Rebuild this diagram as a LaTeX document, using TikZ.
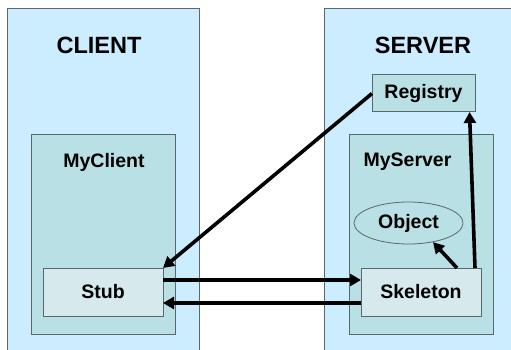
\documentclass[tikz,border=0pt]{standalone}
\usepackage{fontspec}
\setmainfont{Liberation Sans}
\usetikzlibrary{arrows.meta,shapes.geometric,calc}
\definecolor{hostblue}{RGB}{204,236,255}
\definecolor{procteal}{RGB}{185,224,228}
\definecolor{proxyfill}{RGB}{214,234,237}
\definecolor{edgegray}{RGB}{88,104,108}
\tikzset{
  host/.style={draw=edgegray, line width=1pt, fill=hostblue, inner sep=0pt, outer sep=0pt, anchor=north west},
  proc/.style={draw=edgegray, line width=1pt, fill=procteal, inner sep=0pt, outer sep=0pt},
  proxy/.style={draw=edgegray, line width=1pt, fill=proxyfill, inner sep=0pt, outer sep=0pt,
    font=\fontsize{19.5}{22}\bfseries\selectfont},
  title/.style={font=\fontsize{23.5}{26}\bfseries\selectfont, inner sep=0pt},
  caption/.style={font=\fontsize{19.5}{22}\bfseries\selectfont, inner sep=0pt},
  call/.style={line width=3.6pt, -{Triangle[length=11pt,width=12pt]}},
}
\begin{document}
\begin{tikzpicture}[x=1pt,y=-1pt]
\useasboundingbox (0,0) rectangle (511,350);
\clip (0,0) rectangle (511,350);

% the two hosts
\node[host, minimum width=192pt, minimum height=360pt] (client) at (7,9) {};
\node[host, minimum width=200pt, minimum height=360pt] (server) at (324,9) {};
\node[title] (clientlbl) at (99,45) {CLIENT};
\node[title] (serverlbl) at (423,45) {SERVER};

% processes
\node[proc, minimum width=144pt, minimum height=199pt] (myclient) at (103,234.5) {};
\node[proc, minimum width=144pt, minimum height=199pt] (myserver) at (421,234.5) {};
\node[caption] (myclientlbl) at (104,162) {MyClient};
\node[caption] (myserverlbl) at (407.5,162) {MyServer};

% registry, proxies and the remote object
\node[proc, minimum width=103pt, minimum height=37pt, font=\fontsize{19.5}{22}\bfseries\selectfont] (registry) at (423.5,93.5) {Registry};
\node[proxy, minimum width=120pt, minimum height=48pt] (stub) at (103,292) {Stub};
\node[proxy, minimum width=120pt, minimum height=48pt] (skel) at (421,292) {Skeleton};
\node[draw=edgegray, line width=0.8pt, ellipse, inner sep=0pt, minimum width=109pt, minimum height=42pt,
      font=\fontsize{19.5}{22}\bfseries\selectfont] (obj) at (408.5,223) {Object};

% calls
\draw[call] (registry.west) -- (stub.north east);
\draw[call] ([yshift=12pt]stub.east) -- ([yshift=12pt]stub.east -| skel.west);
\draw[call] ([yshift=-11pt]skel.west) -- ([yshift=-11pt]skel.west -| stub.east);
\draw[call] ([xshift=36pt]skel.north) -- (obj.-38);
\draw[call] ([xshift=-6pt]skel.north east) -- ([xshift=-5.5pt]registry.south east);
\end{tikzpicture}
\end{document}
